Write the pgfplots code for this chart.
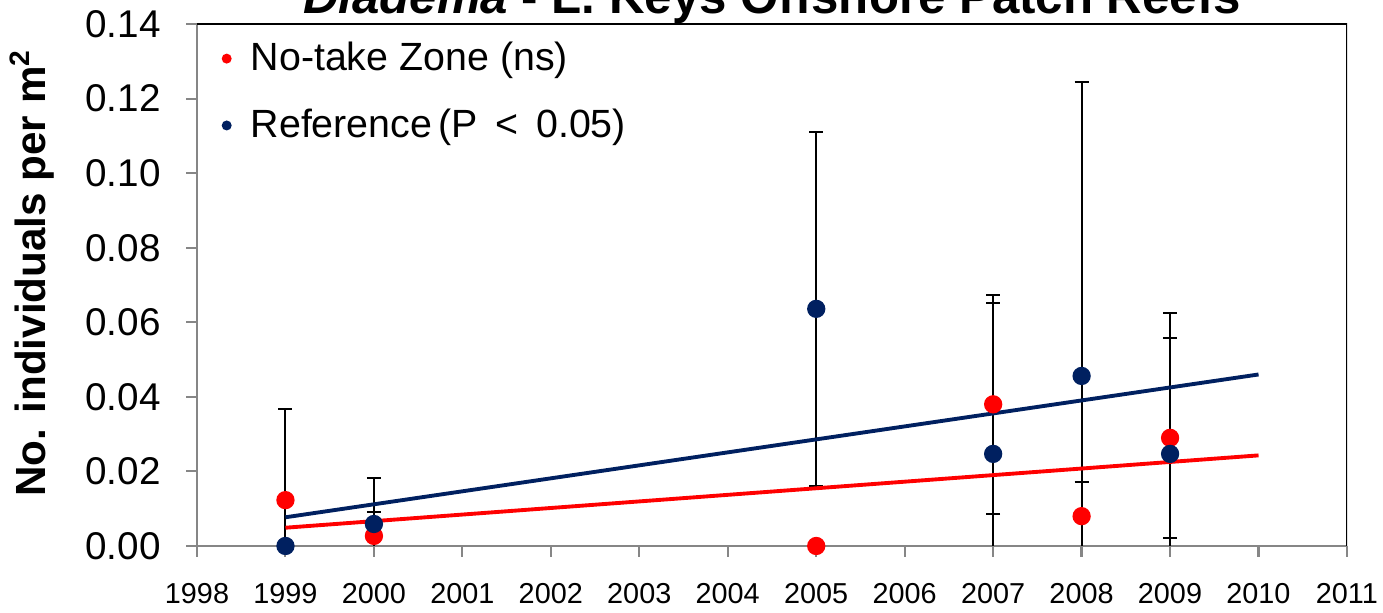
\documentclass[border=0pt]{standalone}
\usepackage{pgfplots}
\pgfplotsset{compat=1.18}
\usepackage{fontspec}
\setmainfont{Liberation Sans}
\definecolor{navyb}{RGB}{0,32,96}
\definecolor{redd}{RGB}{255,0,0}
\definecolor{axgray}{RGB}{134,134,134}
\begin{document}
\begin{tikzpicture}
\begin{axis}[
  scale only axis,
  width=11.5cm, height=5.22cm,
  xmin=1998, xmax=2011,
  ymin=0, ymax=0.14,
  xtick={1998,1999,...,2011},
  ytick={0,0.02,...,0.14},
  /pgf/number format/assume math mode=true,
  xticklabel style={font=\fontsize{8.2}{9}\selectfont, /pgf/number format/1000 sep={}, yshift=-0.14cm},
  yticklabel style={font=\fontsize{11}{12}\selectfont, /pgf/number format/fixed, /pgf/number format/fixed zerofill, /pgf/number format/precision=2, xshift=-0.13cm},
  axis lines*=left,
  axis line style={axgray, line width=0.6pt},
  tick style={axgray, line width=0.6pt},
  tick align=outside,
  major tick length=0.11cm,
  every axis y label/.style={at={(axis description cs:-0.132,0.523)}, anchor=base, rotate=90, font=\bfseries\fontsize{12}{14}\selectfont},
  ylabel={No. individuals per m\textsuperscript{2}},
  every axis title shift=0pt,
  title={{\bfseries\itshape Diadema} {\bfseries - L. Keys Offshore Patch Reefs}},
  title style={at={(rel axis cs:0.5,1)}, anchor=base, yshift=0.10cm, font=\fontsize{14}{16}\selectfont, inner sep=0pt},
  legend style={draw=none, fill=none, at={(rel axis cs:0,1)}, anchor=north west, xshift=0.19cm, yshift=-0.1cm, font=\fontsize{11.2}{12}\selectfont, row sep=0.19cm, inner sep=0pt},
  legend cell align=left,
  legend image code/.code={\path[draw=none, fill=none] (0cm,0cm) -- (0.27cm,0cm); \fill[#1, draw=none] (0.1cm,0cm) circle (0.05cm);},
  clip=true,
]
\addplot[only marks, mark=*, mark size=2.4pt, color=redd, forget plot,
  error bars/.cd, y dir=both, y explicit,
  error bar style={black, line width=0.55pt},
  error mark options={black, rotate=90, mark size=0.07cm, line width=0.55pt}]
coordinates {
 (1999,0.0123) +- (0,0.0244)
 (2000,0.0027) +- (0,0.0064)
 (2005,0.0000) +- (0,0)
 (2007,0.0380) +- (0,0.0293)
 (2008,0.0080) +- (0,0.0092)
 (2009,0.0290) +- (0,0.0268)
};
\addplot[only marks, mark=*, mark size=2.4pt, color=navyb, forget plot,
  error bars/.cd, y dir=both, y explicit,
  error bar style={black, line width=0.55pt},
  error mark options={black, rotate=90, mark size=0.07cm, line width=0.55pt}]
coordinates {
 (1999,0.0000) +- (0,0)
 (2000,0.0059) +- (0,0.0123)
 (2005,0.0636) +- (0,0.0474)
 (2007,0.0247) +- (0,0.0405)
 (2008,0.0456) +- (0,0.0789)
 (2009,0.0247) +- (0,0.0378)
};
\addplot[redd, line width=1.1pt, forget plot] coordinates {(1999,0.0049) (2010,0.0243)};
\addplot[navyb, line width=1.1pt, forget plot] coordinates {(1999,0.0077) (2010,0.0460)};
\addlegendimage{redd}
\addlegendentry{No-take Zone (ns)}
\addlegendimage{navyb}
\addlegendentry{Reference\,(P\, < \,0.05)}
\draw[black, line width=0.7pt] (rel axis cs:0,1) -- (rel axis cs:1,1) -- (rel axis cs:1,0);
\end{axis}
\pgfresetboundingbox
\path[use as bounding box] (-1.97cm,-0.67cm) rectangle (11.86cm,5.46cm);
\end{tikzpicture}
\end{document}
